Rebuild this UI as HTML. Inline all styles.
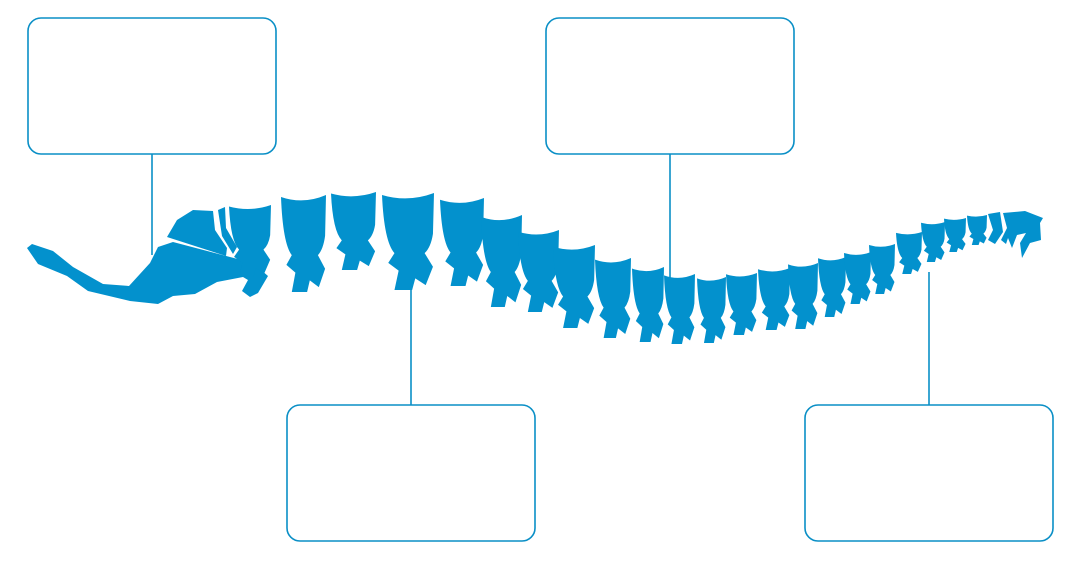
<!DOCTYPE html>
<html><head><meta charset="utf-8"><style>html,body{margin:0;padding:0;background:#fff}svg{display:block}</style></head>
<body>
<svg width="1080" height="561" viewBox="0 0 1080 561" xmlns="http://www.w3.org/2000/svg">
<defs>
<path id="v" d="M0,0.02 Q0.5,0.1 1,0 L0.98,0.42 Q0.94,0.56 0.82,0.62 L0.98,0.76 L0.84,0.95 L0.64,0.88 L0.58,1 L0.24,1 L0.32,0.8 L0.12,0.72 L0.24,0.62 Q0.04,0.5 0,0.02 Z"/>
</defs>
<g fill="none" stroke="#0a8fc6" stroke-width="1.6">
<rect x="28" y="18" width="248" height="136" rx="13"/>
<rect x="546" y="18" width="248" height="136" rx="13"/>
<rect x="287" y="405" width="248" height="136" rx="13"/>
<rect x="805" y="405" width="248" height="136" rx="13"/>
<line x1="152" y1="154" x2="152" y2="255"/>
<line x1="670" y1="154" x2="670" y2="278"/>
<line x1="411" y1="285" x2="411" y2="405"/>
<line x1="929" y1="272" x2="929" y2="405"/>
</g>
<g fill="#0391cd">
<polygon points="27,248 32,244 53,251 73,267 103,284 129,286 150,263 158,247 173,242 230,257 253,263 268,276 258,293 250,297 242,291 248,280 243,277 217,282 195,294 173,296 158,304 130,301 88,291 67,276 38,264"/>
<polygon points="167,237 177,220 193,210 213,211 215,230 227,248 226,256"/>
<polygon points="218,210 225,207 226,228 237,247 233,254 222,236"/>
<use href="#v" transform="translate(229,205) scale(42,72)"/>
<use href="#v" transform="translate(281,195) scale(45,97)"/>
<use href="#v" transform="translate(331,192) scale(45,78)"/>
<use href="#v" transform="translate(382,193) scale(52,97)"/>
<use href="#v" transform="translate(440,198) scale(44,88)"/>
<use href="#v" transform="translate(481,215) scale(41,92)"/>
<use href="#v" transform="translate(518,230) scale(41,82)"/>
<use href="#v" transform="translate(553,245) scale(42,83)"/>
<use href="#v" transform="translate(595,258) scale(36,80)"/>
<use href="#v" transform="translate(632,267) scale(32,75)"/>
<use href="#v" transform="translate(664,274) scale(31,70)"/>
<use href="#v" transform="translate(697,277) scale(29,66)"/>
<use href="#v" transform="translate(726,273) scale(31,62)"/>
<use href="#v" transform="translate(758,268) scale(32,62)"/>
<use href="#v" transform="translate(788,263) scale(30,66)"/>
<use href="#v" transform="translate(818,257) scale(28,60)"/>
<use href="#v" transform="translate(844,252) scale(27,52)"/>
<use href="#v" transform="translate(869,244) scale(26,50)"/>
<use href="#v" transform="translate(896,232) scale(26,42)"/>
<use href="#v" transform="translate(921,222) scale(24,40)"/>
<use href="#v" transform="translate(944,218) scale(22,34)"/>
<use href="#v" transform="translate(967,215) scale(20,30)"/>
<polygon points="988,214 1000,212 1003,232 995,244 988,240 993,230"/>
<polygon points="1003,213 1025,211 1043,218 1040,223 1041,240 1030,243 1022,258 1020,243 1026,233 1017,235 1012,248 1008,238 1006,244 1001,240 1007,228"/>
</g>
</svg>
</body></html>
